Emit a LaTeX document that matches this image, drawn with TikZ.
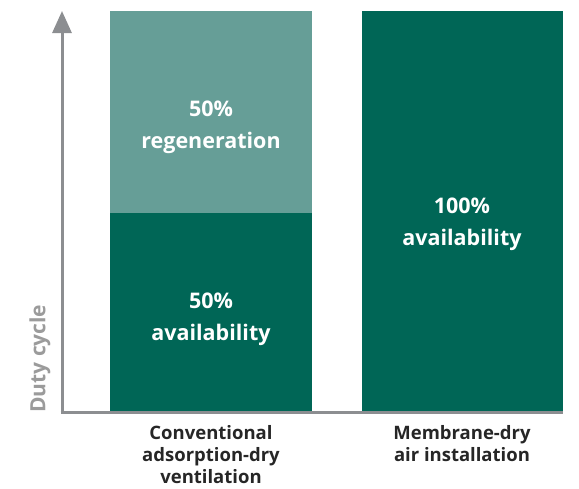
\documentclass[tikz,border=0pt]{standalone}
\usepackage{fontspec}
\setmainfont{Open Sans}
\usepackage{tikz}
\definecolor{darkbar}{RGB}{0, 102, 86}
\definecolor{lightbar}{RGB}{102, 158, 151}
\definecolor{axisgrey}{RGB}{140, 142, 145}
\definecolor{labelgrey}{RGB}{155, 155, 155}
\usetikzlibrary{positioning}
\usetikzlibrary{arrows.meta}

\begin{document}
\begin{tikzpicture}
				[x=1pt,y=-1pt,
				bartext/.style={text=white, font=\bfseries\fontsize{21.5}{32}\selectfont, align=center, inner sep=0pt},
				cattext/.style={text=black!85, font=\bfseries\fontsize{18.5}{22}\selectfont, align=center, inner sep=0pt, anchor=north},
				axisline/.style={draw=axisgrey, line width=3pt}]
				\useasboundingbox (0, 0) rectangle (579, 488);
				\fill [lightbar] (110, 11) rectangle (312, 213);
				\fill [darkbar] (110, 213) rectangle (312, 411);
				\fill [darkbar] (362, 11) rectangle (563, 411);
				\coordinate (origin) at (62, 412);
				\coordinate (ytop) at (62, 11);
				\coordinate (xend) at (563, 412);
				\draw [axisline, -{Triangle[length=22pt, width=19pt]}] (origin) -- (ytop);
				\draw [axisline] ([xshift=-1.5pt]origin) -- (xend);
				\node (regen) [bartext] at (211, 127) {50\%\\regeneration};
				\node (avail) [bartext] at (211, 319) {50\%\\availability};
				\node (full) [bartext] at (462, 224) {100\%\\availability};
				\node (yname) [text=labelgrey, font=\bfseries\fontsize{21}{22}\selectfont, rotate=90, anchor=west, inner sep=0pt] at (40, 413) {Duty cycle};
				\node (conv) [cattext] at (211, 425) {Conventional\\adsorption-dry\\ventilation};
				\node (membr) [cattext] at (462, 425) {Membrane-dry\\air installation};
\end{tikzpicture}
\end{document}
